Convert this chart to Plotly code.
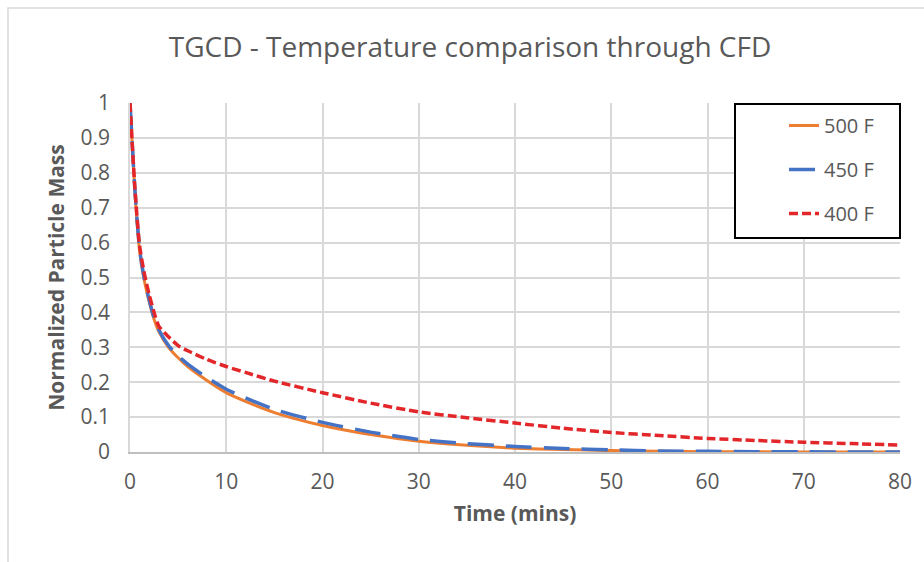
import plotly.graph_objects as go

time_mins = [0, 0.5, 1, 1.5, 2, 2.5, 3, 4, 5, 6, 8, 10, 12, 15, 20, 25, 30, 35, 40, 45, 50, 55, 60, 65, 70, 75, 80]
mass_500F = [1, 0.75, 0.575, 0.49, 0.43, 0.38, 0.345, 0.30, 0.27, 0.245, 0.205, 0.17, 0.145, 0.113, 0.076, 0.05,
             0.031, 0.019, 0.011, 0.007, 0.004, 0.002, 0.001, 0.0005, 0.0002, 0.0001, 0]
mass_450F = [1, 0.755, 0.58, 0.495, 0.435, 0.385, 0.35, 0.305, 0.275, 0.252, 0.213, 0.18, 0.155, 0.122, 0.085, 0.057,
             0.036, 0.024, 0.016, 0.010, 0.006, 0.003, 0.002, 0.001, 0.0005, 0.0002, 0]
mass_400F = [1, 0.76, 0.59, 0.51, 0.45, 0.40, 0.36, 0.33, 0.305, 0.29, 0.265, 0.245, 0.228, 0.203, 0.17, 0.14,
             0.115, 0.098, 0.083, 0.068, 0.056, 0.047, 0.039, 0.033, 0.028, 0.024, 0.02]

series_names = ["500 F", "450 F", "400 F"]
series_values = [mass_500F, mass_450F, mass_400F]
series_colors = ["#ED7D31", "#4472C4", "#E3262A"]
series_dash = ["solid", "26px,12px", "9px,4px"]
series_width = [3, 3.5, 3.5]

x_ticks = [0, 10, 20, 30, 40, 50, 60, 70, 80]
y_ticks = [0, 0.1, 0.2, 0.3, 0.4, 0.5, 0.6, 0.7, 0.8, 0.9, 1]

FONT = "Open Sans, Noto Sans, sans-serif"
GREY = "#595959"

fig = go.Figure()
for name, vals, col, dash, w in zip(series_names, series_values, series_colors, series_dash, series_width):
    fig.add_trace(go.Scatter(
        x=time_mins, y=vals, mode="lines", name=name, legendgroup=name,
        line=dict(color=col, width=w, dash=dash, shape="spline", smoothing=0.6),
    ))

W, H = 924, 562
L, R, T, B = 130, 24, 103, 110
pw, ph = W - L - R, H - T - B


def px_x(px):
    return (px - L) / pw


def px_y(py):
    return (H - B - py) / ph


fig.update_layout(
    width=W, height=H,
    margin=dict(l=L, r=R, t=T, b=B, autoexpand=False),
    paper_bgcolor="white", plot_bgcolor="white",
    font=dict(family=FONT, color=GREY),
    title=dict(text="TGCD - Temperature comparison through CFD",
               x=470 / W, xanchor="center", xref="container", y=1 - 47 / H, yanchor="middle",
               font=dict(size=28, color=GREY, family=FONT)),
    showlegend=True,
    legend=dict(x=px_x(784), y=px_y(106), xanchor="left", yanchor="top",
                bgcolor="rgba(0,0,0,0)", borderwidth=0,
                traceorder="grouped", tracegroupgap=15,
                font=dict(size=20, color=GREY, family=FONT)),
    xaxis=dict(range=[0, 80], tickvals=x_ticks, showgrid=True, gridcolor="#D9D9D9", gridwidth=1.5,
               zeroline=False, showline=True, linecolor="#BFBFBF", linewidth=1.5,
               ticks="", tickfont=dict(size=21, color=GREY), ticklabelstandoff=10,
               title=dict(text="<b>Time (mins)</b>", font=dict(size=21, color=GREY), standoff=12)),
    yaxis=dict(range=[0, 1], tickvals=y_ticks, showgrid=True, gridcolor="#D9D9D9", gridwidth=1.5,
               zeroline=False, showline=True, linecolor="#D9D9D9", linewidth=1.5,
               ticks="", tickfont=dict(size=21, color=GREY), ticklabelstandoff=14,
               title=dict(text="<b>Normalized Particle Mass</b>", font=dict(size=21, color=GREY), standoff=10)),
    shapes=[
        dict(type="rect", xref="paper", yref="paper",
             x0=px_x(735), x1=px_x(900), y0=px_y(104), y1=px_y(238),
             line=dict(color="black", width=2), fillcolor="white", layer="above"),
        dict(type="rect", xref="paper", yref="paper",
             x0=px_x(8), x1=px_x(935), y0=px_y(8), y1=px_y(575),
             line=dict(color="#D9D9D9", width=1.5), fillcolor="rgba(0,0,0,0)", layer="below"),
    ],
)

fig.write_html("out.html")
